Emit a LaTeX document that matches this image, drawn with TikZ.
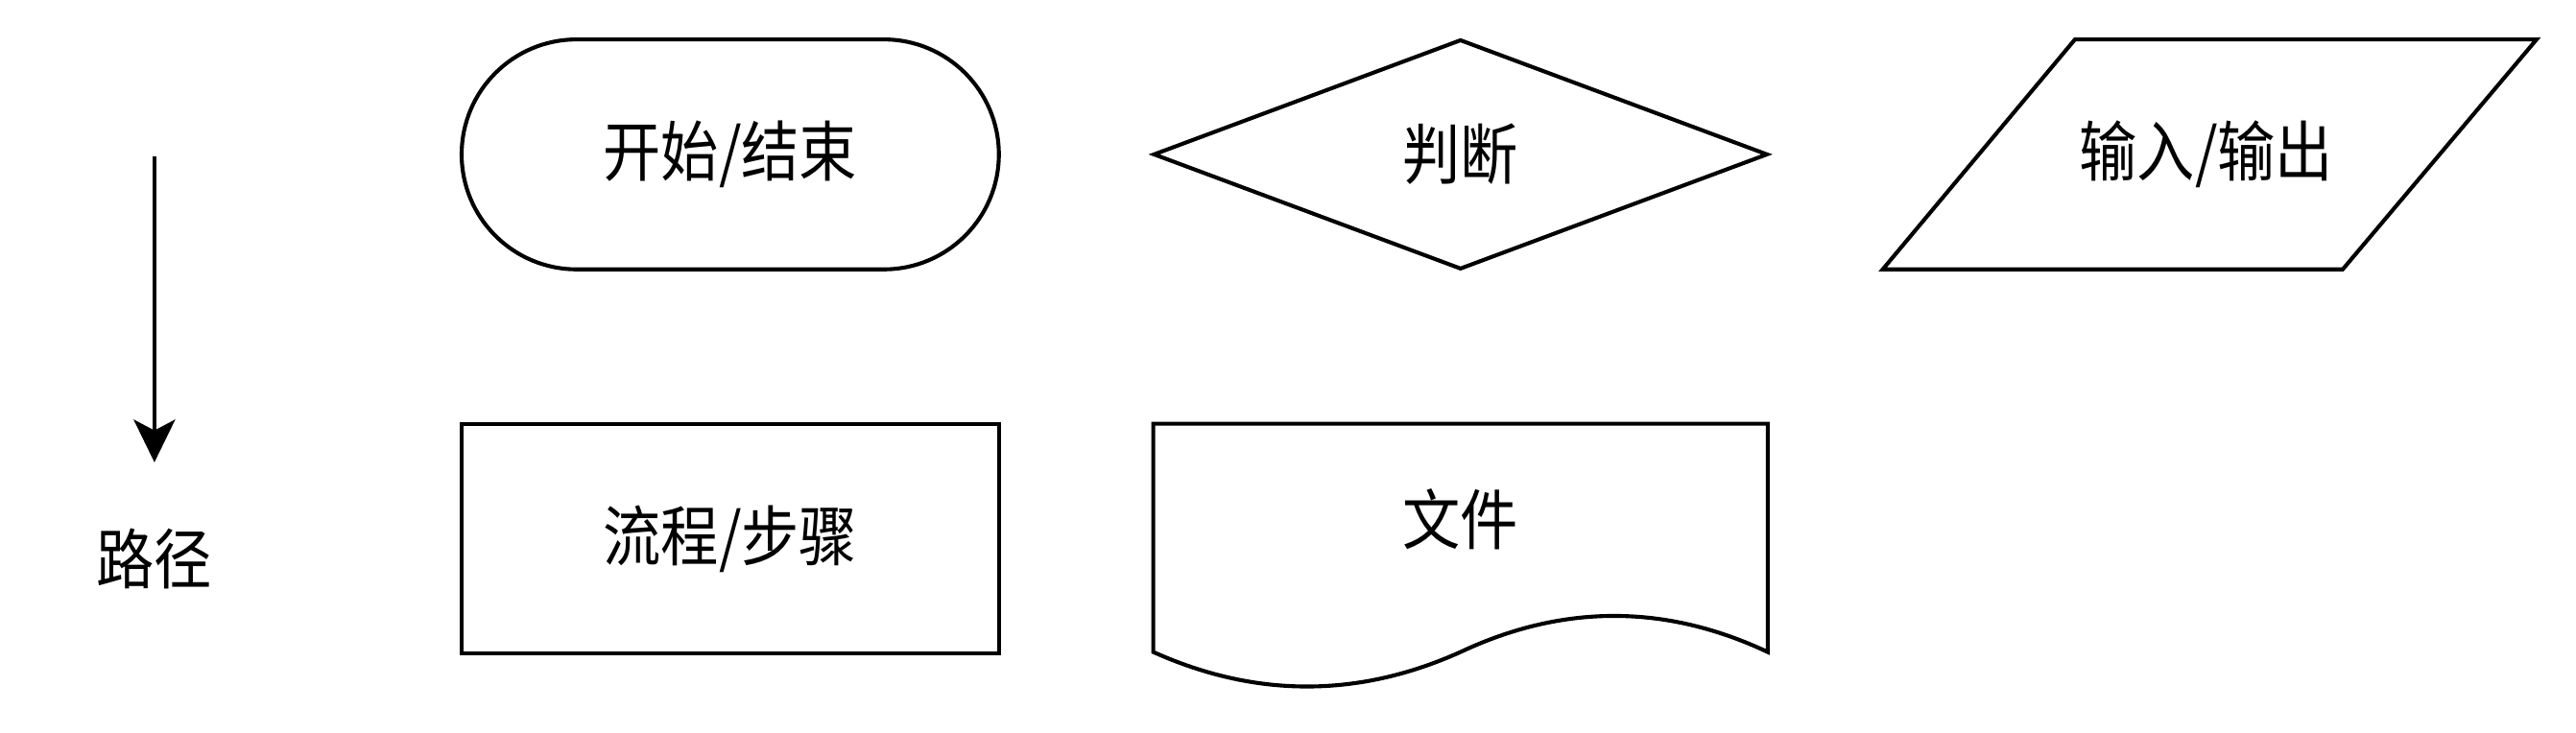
\documentclass[tikz,border=0pt]{standalone}
\usepackage{fontspec}
\newfontfamily\cjk[FakeStretch=0.88]{Noto Sans CJK SC}
\usetikzlibrary{arrows.meta,shapes.geometric}

\tikzset{
  shapeline/.style={draw=black,line width=1.2pt},
  lbl/.style={font=\cjk\fontsize{20}{24}\selectfont,inner sep=0pt},
}

\begin{document}
\begin{tikzpicture}[x=0.5pt,y=-0.5pt]
    \useasboundingbox (0,0) rectangle (1568,446.3);
    % path
    \coordinate (pathtop) at (94,95);
    \coordinate (pathend) at (94,281.5);
    \draw[line width=1.2pt,-{Stealth[length=13pt,width=12.6pt,inset=3.3pt]}] (pathtop) -- (pathend);
    \node[lbl] (pathlbl) at (94,340) {路径};
    % start / end
    \node[shapeline,lbl,rectangle,rounded corners=35pt,minimum width=163.5pt,minimum height=70pt] (term) at (444.5,94) {开始/结束};
    % decision
    \node[shapeline,lbl,diamond,minimum width=187pt,minimum height=70pt] (dec) at (889,94) {判断};
    % input / output
    \draw[shapeline,line join=miter] (1263,24) -- (1544,24) -- (1426,164) -- (1146,164) -- cycle;
    \node[lbl] (io) at (1343,94) {输入/输出};
    % process
    \node[shapeline,lbl,rectangle,minimum width=163.5pt,minimum height=70pt] (proc) at (444.5,328) {流程/步骤};
    % document
    \draw[shapeline] (702,397) -- (702,258) -- (1076,258) -- (1076,397)
        .. controls (1013.7,367.7) and (951.3,367.7) .. (889,397)
        .. controls (826.7,425) and (764.3,425) .. (702,397) -- cycle;
    \node[lbl] (doc) at (889,316) {文件};
\end{tikzpicture}
\end{document}
